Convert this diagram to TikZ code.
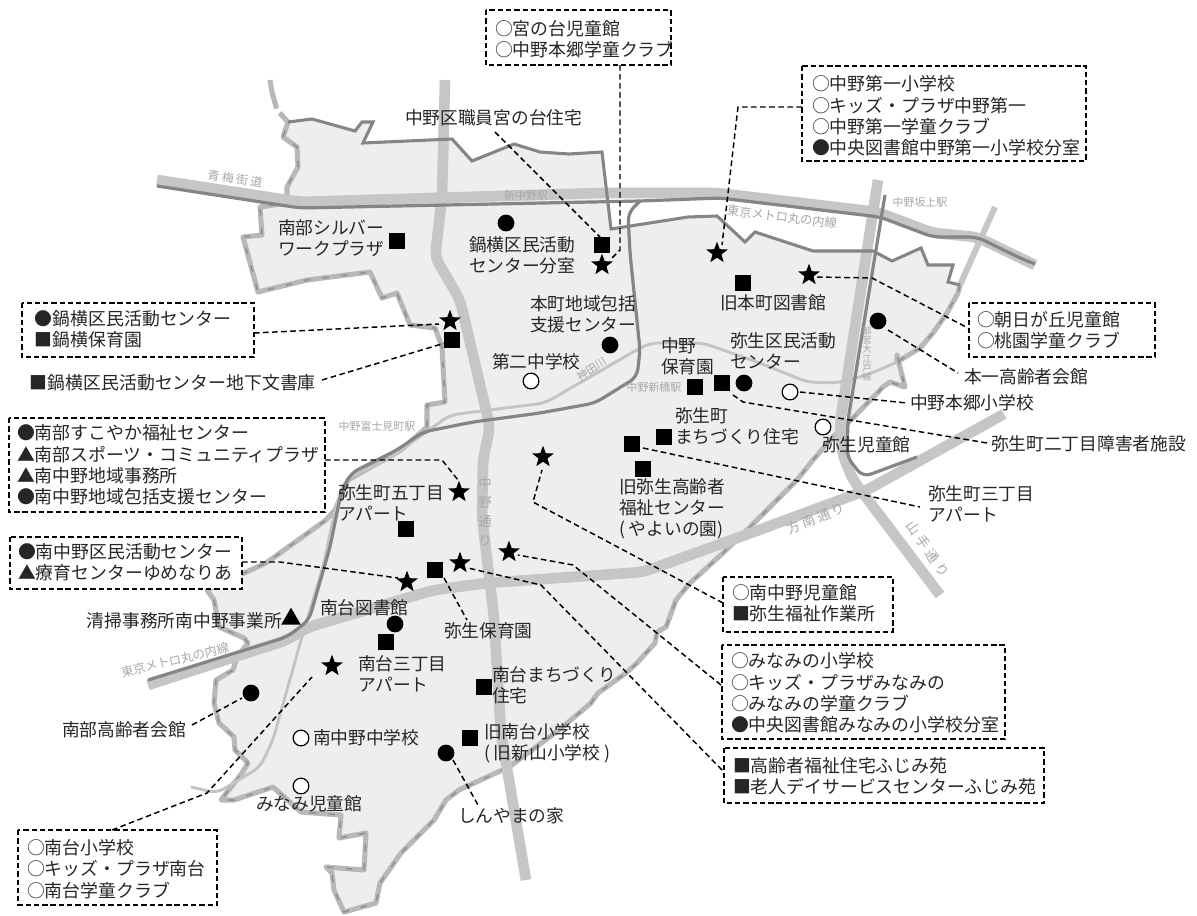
\documentclass[tikz,border=0pt]{standalone}
\usepackage{fontspec}
\setmainfont{Noto Sans CJK JP}
\usetikzlibrary{shapes.geometric,shapes.misc}
\definecolor{mapfill}{HTML}{EEEEEE}
\definecolor{roadc}{HTML}{C6C6C6}
\definecolor{linec}{HTML}{858585}
\definecolor{edgec}{HTML}{B8B8B8}
\definecolor{rivc}{HTML}{C4C4C4}
\definecolor{smallc}{HTML}{A8A8A8}
\tikzset{
  x=0.75pt,y=-0.75pt,
  road/.style={draw=roadc,line width=8pt,line join=round,rounded corners=6pt},
  railway/.style={draw=linec,line width=2.4pt,line join=round,rounded corners=6pt},
  river/.style={draw=rivc,line width=2.2pt,line join=round,rounded corners=6pt},
  wardtop/.style={draw=linec,line width=2.3pt,line join=miter},
  wardedge/.style={draw=edgec,line width=3.8pt,line join=round},
  wardedgedash/.style={draw=linec!90,line width=1.2pt,dash pattern=on 5pt off 9pt},
  lbl/.style={anchor=west,inner sep=0pt,outer sep=0pt,align=left,font=\fontsize{13.3pt}{15.8pt}\selectfont,text=black!85},
  inbox/.style={lbl,font=\fontsize{13.4pt}{16.05pt}\selectfont},
  dbox/.style={draw=black,line width=1.1pt,dash pattern=on 4pt off 2.2pt,fill=white,inner sep=0pt},
  conn/.style={draw=black,line width=1.1pt,dash pattern=on 4.2pt off 2.6pt},
  tiny/.style={inner sep=0pt,text=smallc,font=\fontsize{8.2pt}{9pt}\selectfont},
  mini/.style={inner sep=0pt,text=smallc,font=\fontsize{7pt}{7pt}\selectfont,align=center},
  roadlbl/.style={inner sep=0pt,text=smallc,align=center,font=\fontsize{10pt}{14.2pt}\selectfont},
  starm/.style={star,star points=5,star point ratio=2.4,fill=black,inner sep=0pt,minimum size=17pt},
  sqm/.style={rectangle,fill=black,inner sep=0pt,minimum size=11.3pt},
  dotm/.style={circle,fill=black,inner sep=0pt,minimum size=12.6pt},
  openm/.style={circle,draw=black,line width=0.9pt,fill=white,inner sep=0pt,minimum size=11.8pt},
  trim/.style={regular polygon,regular polygon sides=3,fill=black,inner sep=0pt,minimum size=17pt},
}
\begin{document}
\begin{tikzpicture}
\useasboundingbox (0,0) rectangle (1197,915);
\fill[white] (0,0) rectangle (1197,915);
% ward area
\fill[mapfill] (288,122) -- (312,119) -- (355,131) -- (362,122) -- (373,122) -- (363,143) -- (452,139) -- (472,161) -- (514,144) -- (540,152) -- (569,154) -- (602,152) -- (611,229) -- (688,217) -- (717,216) -- (745,242) -- (755,232) -- (813,251) -- (873,251) -- (892,261) -- (921,248) -- (928,265) -- (953,265) -- (948,282) -- (960,285)
 -- (958,293) -- (947,313) -- (933,333) -- (920,348) -- (897,362) -- (905,387) -- (890,382) -- (883,387) -- (853,418) -- (833,437) -- (813,460) -- (797,480) -- (750,527) -- (723,553) -- (690,583) -- (676,600) -- (666,627) -- (657,632) -- (655,643) -- (637,663) -- (626,673) -- (598,693) -- (591,703) -- (559,730) -- (509,767) -- (459,790) -- (446,800) -- (434,820) -- (401,853) -- (380,883) -- (376,903) -- (344,912) -- (334,890) -- (332,873) -- (326,867) -- (364,870) -- (366,833) -- (339,838) -- (341,815) -- (301,812) -- (273,787) -- (234,800) -- (221,800) -- (242,773) -- (248,763) -- (235,750) -- (234,737) -- (219,723) -- (214,703) -- (216,680) -- (233,670) -- (237,657) -- (248,643) -- (244,638) -- (219,627) -- (214,600) -- (207,590) -- (266,563) -- (326,520) -- (335,510) -- (348,480) -- (401,450) -- (427,427) -- (427,405) -- (445,402) -- (442,347) -- (435,328) -- (410,325) -- (397,293) -- (382,298) -- (370,272) -- (307,280) -- (258,292) -- (243,237) -- (262,235) -- (260,207) -- (287,203) -- (287,187) -- (298,167) -- (297,147) -- (283,137) -- cycle;
% ward edge, shared with neighbouring wards
\def\edgepath{(960,285) -- (958,293) -- (947,313) -- (933,333) -- (920,348) -- (897,362) -- (897,355) -- (905,387) -- (890,382) -- (883,387) -- (853,418) -- (833,437) -- (813,460) -- (797,480) -- (750,527) -- (723,553) -- (690,583) -- (676,600) -- (666,627) -- (657,632) -- (655,643) -- (637,663) -- (626,673) -- (598,693) -- (591,703) -- (559,730) -- (509,767) -- (459,790) -- (446,800) -- (434,820) -- (401,853) -- (380,883) -- (376,903) -- (344,912) -- (334,890) -- (332,873) -- (326,867) -- (364,870) -- (366,833) -- (339,838) -- (341,815) -- (301,812) -- (273,787) -- (234,800) -- (221,800) -- (242,773) -- (248,763) -- (235,750) -- (234,737) -- (219,723) -- (214,703) -- (216,680) -- (233,670) -- (237,657) -- (248,643) -- (244,638) -- (219,627) -- (214,600) -- (207,590) -- (266,563) -- (326,520) -- (335,510) -- (348,480) -- (401,450) -- (427,427) -- (427,405) -- (445,402) -- (442,347) -- (435,328) -- (410,325) -- (397,293) -- (382,298) -- (370,272) -- (307,280) -- (258,292) -- (243,237) -- (262,235) -- (260,207) -- (287,203) -- (287,187) -- (298,167) -- (297,147) -- (283,137) -- (288,122)}
\draw[wardedge] \edgepath;
\draw[wardedgedash] \edgepath;
\draw[wardedge,dash pattern=on 22pt off 4pt] (270,80) -- (272,92) -- (277,110) -- (288,122);
% roads
\draw[road] (445,80) -- (442,197) -- (435,257) -- (460,300) -- (490,427) -- (483,460) -- (482,517) -- (494,617) -- (501,733) -- (526,880);
\draw[road] (878,180) -- (840,423) -- (842,453) -- (853,480) -- (940,595);
\draw[road] (1004,414) -- (867,490) -- (740,537) -- (643,572) -- (487,583) -- (434,590) -- (309,627) -- (287,640) -- (148,685);
\draw[road] (157,180) -- (300,202) -- (600,193) -- (717,193) -- (877,212) -- (933,233) -- (977,237) -- (1035,265);
\draw[road,line width=4.5pt] (995,207) -- (977,247) -- (960,285);
% river
\draw[river] (897,362) -- (867,375) -- (837,383) -- (807,382) -- (760,363) -- (703,343) -- (650,343) -- (633,352) -- (545,403) -- (450,415) -- (387,460) -- (345,480) -- (335,510) -- (323,567) -- (301,640) -- (273,740) -- (260,767) -- (217,793) -- (191,787);
% railways
\draw[railway] (157,186) -- (300,208) -- (640,201) -- (720,198) -- (880,217) -- (933,237) -- (977,237) -- (1020,258) -- (1035,264);
\draw[railway] (640,201) -- (628,213) -- (630,253) -- (640,350) -- (637,377) -- (595,403) -- (540,413) -- (473,422) -- (423,432) -- (397,450) -- (351,473) -- (341,493) -- (330,547) -- (309,620) -- (287,637) -- (148,680);
\draw[railway] (885,195) -- (848,420) -- (847,457) -- (863,477) -- (917,457);
% ward edge, solid top
\draw[wardtop] (288,122) -- (312,119) -- (355,131) -- (362,122) -- (373,122) -- (363,143) -- (452,139) -- (472,161) -- (514,144) -- (540,152) -- (569,154) -- (602,152) -- (611,229) -- (688,217) -- (717,216) -- (745,242) -- (755,232) -- (813,251) -- (873,251) -- (892,261) -- (921,248) -- (928,265) -- (953,265) -- (948,282) -- (960,285);
% small map labels
\node[tiny,font=\fontsize{9pt}{9pt}\selectfont,rotate=-8] (l01) at (235,179) {青\hspace{1.8pt}梅\hspace{1.8pt}街\hspace{1.8pt}道};
\node[tiny] (l02) at (526,195) {新中野駅};
\node[tiny,font=\fontsize{9.2pt}{9pt}\selectfont,rotate=-7] (l03) at (782,217) {東京メトロ丸の内線};
\node[tiny] (l04) at (920,202) {中野坂上駅};
\node[tiny,rotate=33] (l05) at (592,369) {神田川};
\node[tiny] (l06) at (654,387) {中野新橋駅};
\node[tiny] (l07) at (377,426) {中野富士見町駅};
\node[tiny,font=\fontsize{9.2pt}{9pt}\selectfont,rotate=14] (l08) at (175,660) {東京メトロ丸の内線};
\node[mini] (l09) at (867,354) {都\\営\\大\\江\\戸\\線};
\node[roadlbl] (l10) at (485,512) {中\\野\\通\\り};
\node[roadlbl,rotate=22] (l11) at (816,518) {方\hspace{2pt}南\hspace{2pt}通\hspace{2pt}り};
\node[roadlbl,rotate=-55] (l12) at (928,549) {山\hspace{3pt}手\hspace{3pt}通\hspace{3pt}り};
% markers
\node[starm] (st1) at (717,253) {};
\node[starm] (st2) at (809,275) {};
\node[starm] (st3) at (602,265) {};
\node[starm] (st4) at (450,321) {};
\node[starm] (st5) at (459,492) {};
\node[starm] (st6) at (543,457) {};
\node[starm] (st7) at (407,582) {};
\node[starm] (st8) at (460,563) {};
\node[starm] (st9) at (509,552) {};
\node[starm] (st10) at (332,666) {};
\node[sqm] (sq1) at (397,241) {};
\node[sqm] (sq2) at (602,245) {};
\node[sqm] (sq3) at (452,340) {};
\node[sqm] (sq4) at (743,283) {};
\node[sqm] (sq5) at (695,387) {};
\node[sqm] (sq6) at (722,383) {};
\node[sqm] (sq7) at (664,437) {};
\node[sqm] (sq8) at (632,444) {};
\node[sqm] (sq9) at (643,469) {};
\node[sqm] (sq10) at (406,529) {};
\node[sqm] (sq11) at (435,570) {};
\node[sqm] (sq12) at (386,642) {};
\node[sqm] (sq13) at (484,687) {};
\node[sqm] (sq14) at (470,738) {};
\node[dotm] (dt1) at (506,223) {};
\node[dotm] (dt2) at (610,345) {};
\node[dotm] (dt3) at (878,321) {};
\node[dotm] (dt4) at (744,383) {};
\node[dotm] (dt5) at (395,624) {};
\node[dotm] (dt6) at (251,693) {};
\node[dotm] (dt7) at (446,753) {};
\node[openm] (op1) at (531,381) {};
\node[openm] (op2) at (790,392) {};
\node[openm] (op3) at (823,427) {};
\node[openm] (op4) at (301,738) {};
\node[openm] (op5) at (301,786) {};
\node[trim] (tr1) at (291,619) {};
% map labels
\node[lbl] (t01) at (405,118) {中野区職員宮の台住宅};
\node[lbl] (t02) at (278,238) {南部シルバー\\ワークプラザ};
\node[lbl] (t03) at (469,255) {鍋横区民活動\\センター分室};
\node[lbl] (t04) at (530,314) {本町地域包括\\支援センター};
\node[lbl] (t05) at (492,362) {第二中学校};
\node[lbl] (t06) at (720,303) {旧本町図書館};
\node[lbl] (t07) at (661,356) {中野\\保育園};
\node[lbl] (t08) at (730,351) {弥生区民活動\\センター};
\node[lbl] (t09) at (675,426) {弥生町\\まちづくり住宅};
\node[lbl] (t10) at (619,509) {旧弥生高齢者\\福祉センター\\( やよいの園)};
\node[lbl] (t11) at (822,445) {弥生児童館};
\node[lbl] (t12) at (964,377) {本一高齢者会館};
\node[lbl] (t13) at (910,403) {中野本郷小学校};
\node[lbl] (t14) at (991,444) {弥生町二丁目障害者施設};
\node[lbl] (t15) at (928,504) {弥生町三丁目\\アパート};
\node[lbl] (t16) at (338,503) {弥生町五丁目\\アパート};
\node[lbl] (t17) at (320,608) {南台図書館};
\node[lbl,anchor=east] (t18) at (282,621) {清掃事務所南中野事業所};
\node[lbl] (t19) at (358,674) {南台三丁目\\アパート};
\node[lbl] (t20) at (444,631) {弥生保育園};
\node[lbl] (t21) at (492,685) {南台まちづくり\\住宅};
\node[lbl] (t22) at (484,743) {旧南台小学校\\( 旧新山小学校 )};
\node[lbl] (t23) at (313,738) {南中野中学校};
\node[lbl] (t24) at (256,804) {みなみ児童館};
\node[lbl] (t25) at (458,816) {しんやまの家};
\node[lbl] (t26) at (62,730) {南部高齢者会館};
\node[inbox] (t27) at (30,383) {■鍋横区民活動センター地下文書庫};
% boxed lists
\draw[dbox] (486,10) rectangle (671,65);
\node[inbox] (b1) at (495,39) {○宮の台児童館\\○中野本郷学童クラブ};
\draw[dbox] (802,66) rectangle (1086,161);
\node[inbox] (b2) at (812,116) {○中野第一小学校\\○キッズ・プラザ中野第一\\○中野第一学童クラブ\\●中央図書館中野第一小学校分室};
\draw[dbox] (22,303) rectangle (254,357);
\node[inbox] (b3) at (35,329) {●鍋横区民活動センター\\■鍋横保育園};
\draw[dbox] (969,303) rectangle (1155,357);
\node[inbox] (b4) at (977,330) {○朝日が丘児童館\\○桃園学童クラブ};
\draw[dbox] (9,418) rectangle (325,512);
\node[inbox] (b5) at (17,465) {●南部すこやか福祉センター\\▲南部スポーツ・コミュニティプラザ\\▲南中野地域事務所\\●南中野地域包括支援センター};
\draw[dbox] (10,537) rectangle (242,589);
\node[inbox] (b6) at (18,562) {●南中野区民活動センター\\▲療育センターゆめなりあ};
\draw[dbox] (723,577) rectangle (893,632);
\node[inbox] (b7) at (732,603) {○南中野児童館\\■弥生福祉作業所};
\draw[dbox] (722,645) rectangle (1005,739);
\node[inbox] (b8) at (731,693) {○みなみの小学校\\○キッズ・プラザみなみの\\○みなみの学童クラブ\\●中央図書館みなみの小学校分室};
\draw[dbox] (724,748) rectangle (1044,803);
\node[inbox] (b9) at (733,776) {■高齢者福祉住宅ふじみ苑\\■老人デイサービスセンターふじみ苑};
\draw[dbox] (18,830) rectangle (217,905);
\node[inbox] (b10) at (27,869) {○南台小学校\\○キッズ・プラザ南台\\○南台学童クラブ};
% free ends and bends of the leader lines
\coordinate (c01a) at (620,65); \coordinate (c01b) at (620,250); \coordinate (c01c) at (610,260);
\coordinate (c02a) at (802,107); \coordinate (c02b) at (738,107); \coordinate (c02c) at (722,245);
\coordinate (c03a) at (254,333); \coordinate (c03b) at (439,324);
\coordinate (c04a) at (322,380); \coordinate (c04b) at (445,343);
\coordinate (c05a) at (325,460); \coordinate (c05b) at (442,460); \coordinate (c05c) at (458,480);
\coordinate (c06a) at (242,562); \coordinate (c06b) at (280,562); \coordinate (c06c) at (398,578);
\coordinate (c07a) at (723,603); \coordinate (c07b) at (533,502); \coordinate (c07c) at (542,470);
\coordinate (c08a) at (721,685); \coordinate (c08b) at (573,565); \coordinate (c08c) at (518,555);
\coordinate (c09a) at (722,770); \coordinate (c09b) at (541,585); \coordinate (c09c) at (468,568);
\coordinate (c10a) at (112,830); \coordinate (c10b) at (207,793); \coordinate (c10c) at (312,677);
\coordinate (c11a) at (495,132); \coordinate (c11b) at (600,237);
\coordinate (c12a) at (192,725); \coordinate (c12b) at (242,698);
\coordinate (c13a) at (453,760); \coordinate (c13b) at (478,805);
\coordinate (c14a) at (444,578); \coordinate (c14b) at (467,620);
\coordinate (c15a) at (817,277); \coordinate (c15b) at (872,278); \coordinate (c15c) at (968,328);
\coordinate (c16a) at (888,330); \coordinate (c16b) at (958,373);
\coordinate (c17a) at (800,392); \coordinate (c17b) at (907,403);
\coordinate (c18a) at (733,395); \coordinate (c18b) at (743,402); \coordinate (c18c) at (987,443);
\coordinate (c19a) at (643,448); \coordinate (c19b) at (920,507);
% leader lines
\draw[conn] (c01a) -- (c01b) -- (c01c);
\draw[conn] (c02a) -- (c02b) -- (c02c);
\draw[conn] (c03a) -- (c03b);
\draw[conn] (c04a) -- (c04b);
\draw[conn] (c05a) -- (c05b) -- (c05c);
\draw[conn] (c06a) -- (c06b) -- (c06c);
\draw[conn] (c07a) -- (c07b) -- (c07c);
\draw[conn] (c08a) -- (c08b) -- (c08c);
\draw[conn] (c09a) -- (c09b) -- (c09c);
\draw[conn] (c10a) -- (c10b) -- (c10c);
\draw[conn] (c11a) -- (c11b);
\draw[conn] (c12a) -- (c12b);
\draw[conn] (c13a) -- (c13b);
\draw[conn] (c14a) -- (c14b);
\draw[conn] (c15a) -- (c15b) -- (c15c);
\draw[conn] (c16a) -- (c16b);
\draw[conn] (c17a) -- (c17b);
\draw[conn] (c18a) -- (c18b) -- (c18c);
\draw[conn] (c19a) -- (c19b);
\end{tikzpicture}
\end{document}
